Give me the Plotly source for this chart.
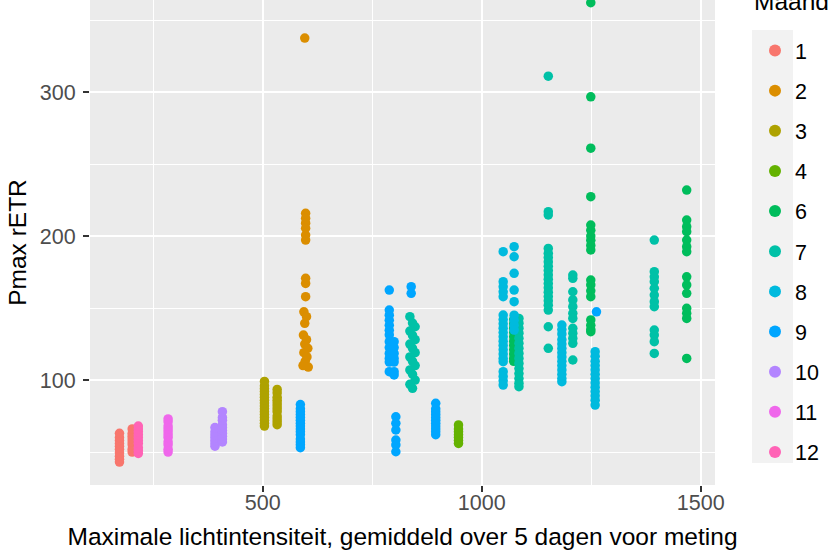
import plotly.graph_objects as go

# ---------------- data ----------------
MONTHS = ["1", "2", "3", "4", "6", "7", "8", "9", "10", "11", "12"]
COLORS = ["#F8766D", "#DB8E00", "#AEA200", "#64B200", "#00BD5C", "#00C1A7",
          "#00BADE", "#00A6FF", "#B385FF", "#EF67EB", "#FF63B6"]

X_M1 = [173, 173, 173, 173, 173, 173, 173, 173, 173, 173,
        202, 202, 202, 202, 202, 202, 202, 202]
Y_M1 = [43, 45, 47, 49.5, 52, 54, 56, 58, 60, 63,
        50, 52, 55, 57, 59, 61, 63, 66]

X_M2 = [596, 598, 598, 598, 598, 598, 598, 598, 598, 598, 594, 600, 596,
        593, 600, 596, 603, 594, 601, 597, 592, 604]
Y_M2 = [337.5, 215.8, 212.3, 208.9, 205.4, 200.7, 197.2, 170.6, 167.1, 157.9, 147.4, 144, 139.4,
        131.2, 128, 125, 122, 119, 116, 113, 110, 109]

X_M3 = [504, 504, 504, 504, 504, 504, 504, 504, 504, 504, 504, 504, 504, 504, 504, 504,
        533, 533, 533, 533, 533, 533, 533, 533, 533, 533, 533, 533]
Y_M3 = [68, 70, 72, 74, 76, 78, 80, 82, 84, 86, 88, 90, 92, 94, 96, 99,
        69, 71, 73, 75, 78, 80, 82, 84, 86, 88, 91, 93.5]

X_M4 = [947, 947, 947, 947, 947, 947, 947]
Y_M4 = [56, 58, 60, 62, 64, 66, 68.8]

X_M6 = [1073, 1073, 1073, 1073, 1073, 1073, 1073, 1073, 1073, 1073, 1073,
        1249, 1249, 1249, 1249, 1249, 1249, 1249, 1249, 1249, 1249, 1249, 1249, 1249, 1249,
        1249, 1249, 1249, 1249,
        1468, 1468, 1468, 1468, 1468, 1468, 1468, 1468, 1468, 1468, 1468, 1468, 1468, 1468]
Y_M6 = [142, 139, 136, 133, 130, 127, 124, 121, 118, 115, 113,
        362, 296.7, 261, 227.3, 207.6, 204, 200, 197, 193.5, 190.3, 169.4, 166, 162, 157.9,
        141.7, 138, 135, 133.6,
        231.9, 211.1, 206.5, 203, 197.2, 192.6, 189.1, 171.7, 166, 160.2, 149.8, 146.3, 142.8, 115]

X_M7 = [836, 842, 848, 836, 842, 848, 836, 842, 848, 836, 842, 848, 836, 842, 848, 836, 842,
        1085, 1085, 1085, 1085, 1085, 1085, 1085, 1085, 1085, 1085, 1085, 1085, 1085, 1085, 1085,
        1152, 1152, 1152, 1152, 1152, 1152, 1152, 1152, 1152, 1152, 1152, 1152, 1152, 1152, 1152,
        1152, 1152, 1152, 1152, 1152,
        1208, 1208, 1208, 1208, 1208, 1208, 1208, 1208, 1208, 1208, 1208, 1208,
        1394, 1394, 1394, 1394, 1394, 1394, 1394, 1394, 1394, 1394, 1394, 1394]
Y_M7 = [144, 139.6, 137, 134, 131, 128, 125, 122, 119, 116, 113, 110, 107, 104, 100, 97, 94.2,
        142.8, 139.5, 136, 132.5, 129, 125.5, 122, 118.5, 115, 111.5, 108, 104.5, 101, 97.8, 95.4,
        311, 216.9, 214.6, 191.4, 188, 185, 182, 179, 176, 173, 170, 167, 164, 161, 158,
        155, 152, 148.6, 137, 122,
        172.9, 170.6, 161.3, 155.6, 150.9, 146.3, 142.8, 135.9, 132.4, 128.9, 125.5, 113.9,
        197.2, 175.2, 171.7, 168.3, 163.7, 159, 154.4, 150.9, 134.7, 131.2, 126.6, 118.5]

X_M8 = [1049, 1049, 1049, 1049, 1049, 1049, 1049, 1049, 1049, 1049, 1049, 1049, 1049, 1049,
        1049, 1049, 1049, 1049, 1049, 1049, 1049,
        1074, 1074, 1074, 1074, 1074, 1074, 1074, 1074, 1074,
        1183, 1183, 1183, 1183, 1183, 1183, 1183, 1183, 1183, 1183, 1183, 1183, 1183, 1183,
        1259, 1259, 1259, 1259, 1259, 1259, 1259, 1259, 1259, 1259, 1259, 1259, 1259]
Y_M8 = [189.1, 168.3, 164.8, 161.3, 157.9, 145.1, 142, 139, 136, 133, 130, 127, 124, 121,
        118, 115, 112.7, 105.8, 102.5, 99.5, 96.5,
        192.6, 185.6, 174.1, 162.5, 154.4, 145, 141.5, 138, 134.7,
        138.2, 135, 132, 128, 125, 122, 119, 116, 113, 110, 107, 104, 101, 98.8,
        119.7, 116.5, 113, 110, 107, 104, 101, 98, 95, 92, 89, 86, 82.6]

X_M9 = [586, 586, 586, 586, 586, 586, 586, 586, 586, 586, 586, 586, 586, 586, 586,
        789, 789, 789, 789, 789, 789, 789, 789, 789, 789, 789, 789, 789,
        800, 800, 800, 800, 800, 800, 800,
        804, 804, 804, 804, 804, 804,
        839, 839,
        895, 895, 895, 895, 895, 895, 895, 895, 895, 895, 895,
        1262]
Y_M9 = [53, 55, 57, 59, 62, 64, 66, 68, 70, 72, 74, 76, 78, 80, 83,
        162.5, 148.6, 145, 141.5, 138, 134.5, 131.3, 126.6, 122.5, 118.5, 115, 112.5, 105.8,
        126.6, 122.5, 118.5, 115, 112.5, 105.8, 103.5,
        74.5, 69.9, 65.3, 58.3, 54.9, 50.2,
        164.8, 160.2,
        62, 64, 66, 68, 70, 72, 74, 76, 78, 80, 83.8,
        147.4]

X_M10 = [391, 391, 391, 391, 391, 391, 391,
         408, 408, 408, 408, 408, 408, 408, 408, 408, 408]
Y_M10 = [54, 56, 58, 60, 62, 64, 67,
         57, 59, 61, 63, 65, 67, 69, 72, 74, 78]

X_M11 = [284, 284, 284, 284, 284, 284, 284, 284, 284, 284, 284]
Y_M11 = [50, 52, 55, 57, 60, 62, 64, 66, 68, 71, 73]

X_M12 = [216, 216, 216, 216, 216, 216, 216, 216, 216, 216]
Y_M12 = [49, 51, 53, 56, 58, 60, 62, 64, 66, 68]

SERIES_X = [X_M1, X_M2, X_M3, X_M4, X_M6, X_M7, X_M8, X_M9, X_M10, X_M11, X_M12]
SERIES_Y = [Y_M1, Y_M2, Y_M3, Y_M4, Y_M6, Y_M7, Y_M8, Y_M9, Y_M10, Y_M11, Y_M12]

X_TICKS = [500, 1000, 1500]
X_MINOR = [250, 750, 1250]
Y_TICKS = [100, 200, 300]
Y_MINOR = [50, 150, 250, 350]

X_TITLE = "Maximale lichtintensiteit, gemiddeld over 5 dagen voor meting"
Y_TITLE = "Pmax rETR"
LEGEND_TITLE = "Maand"

# ---------------- figure ----------------
FONT = "Liberation Sans, Arial, sans-serif"
fig = go.Figure()
for name, col, xs, ys in zip(MONTHS, COLORS, SERIES_X, SERIES_Y):
    fig.add_trace(go.Scatter(
        x=xs, y=ys, mode="markers", name=name, legendgroup=name,
        marker=dict(color=col, size=9.5, line=dict(width=0)),
        cliponaxis=True,
    ))

PLOT_L, PLOT_R, PLOT_T, PLOT_B = 90, 715, 0, 485
W, H = 828, 550
pw = PLOT_R - PLOT_L
ph = PLOT_B - PLOT_T


def px_x(p):
    return (p - PLOT_L) / pw


def px_y(p):
    return 1 - (p - PLOT_T) / ph


fig.update_layout(
    width=W, height=H,
    margin=dict(l=PLOT_L, r=W - PLOT_R, t=PLOT_T, b=H - PLOT_B, pad=0, autoexpand=False),
    plot_bgcolor="#EBEBEB", paper_bgcolor="white",
    font=dict(family=FONT, color="black"),
    showlegend=True,
    legend=dict(
        font=dict(size=21.5, color="black", family=FONT),
        x=px_x(755), xanchor="left",
        y=px_y(30), yanchor="top",
        bgcolor="rgba(0,0,0,0)", borderwidth=0,
        traceorder="grouped", tracegroupgap=9.2,
        itemsizing="constant", maxheight=700,
    ),
    shapes=[dict(type="rect", xref="paper", yref="paper",
                 x0=px_x(752), x1=px_x(793), y0=px_y(463), y1=px_y(30),
                 fillcolor="#F2F2F2", line=dict(width=0), layer="below")],
    annotations=[dict(text=LEGEND_TITLE, xref="paper", yref="paper",
                      x=px_x(752), y=px_y(2), xanchor="left", yanchor="middle",
                      showarrow=False, font=dict(size=24.5, color="black", family=FONT))],
)

fig.update_xaxes(
    range=[105.7, 1532.6], tickvals=X_TICKS, ticktext=[str(v) for v in X_TICKS],
    showgrid=True, gridcolor="white", gridwidth=2, zeroline=False,
    showline=False, ticks="outside", ticklen=6, tickwidth=1.5, tickcolor="#333333",
    tickfont=dict(size=21.5, color="#4D4D4D", family=FONT), ticklabelstandoff=-8,
    minor=dict(tickvals=X_MINOR, showgrid=True, gridcolor="white", gridwidth=1, ticks=""),
    title=dict(text=X_TITLE, font=dict(size=24.5, color="black", family=FONT), standoff=14),
    automargin=False, fixedrange=True,
)
fig.update_yaxes(
    range=[27.1, 363.9], tickvals=Y_TICKS, ticktext=[str(v) for v in Y_TICKS],
    showgrid=True, gridcolor="white", gridwidth=2, zeroline=False,
    showline=False, ticks="outside", ticklen=6, tickwidth=1.5, tickcolor="#333333",
    tickfont=dict(size=21.5, color="#4D4D4D", family=FONT), ticklabelstandoff=3,
    minor=dict(tickvals=Y_MINOR, showgrid=True, gridcolor="white", gridwidth=1, ticks=""),
    title=dict(text=Y_TITLE, font=dict(size=24.5, color="black", family=FONT), standoff=6),
    automargin=False, fixedrange=True,
)

fig.write_html("out.html")
